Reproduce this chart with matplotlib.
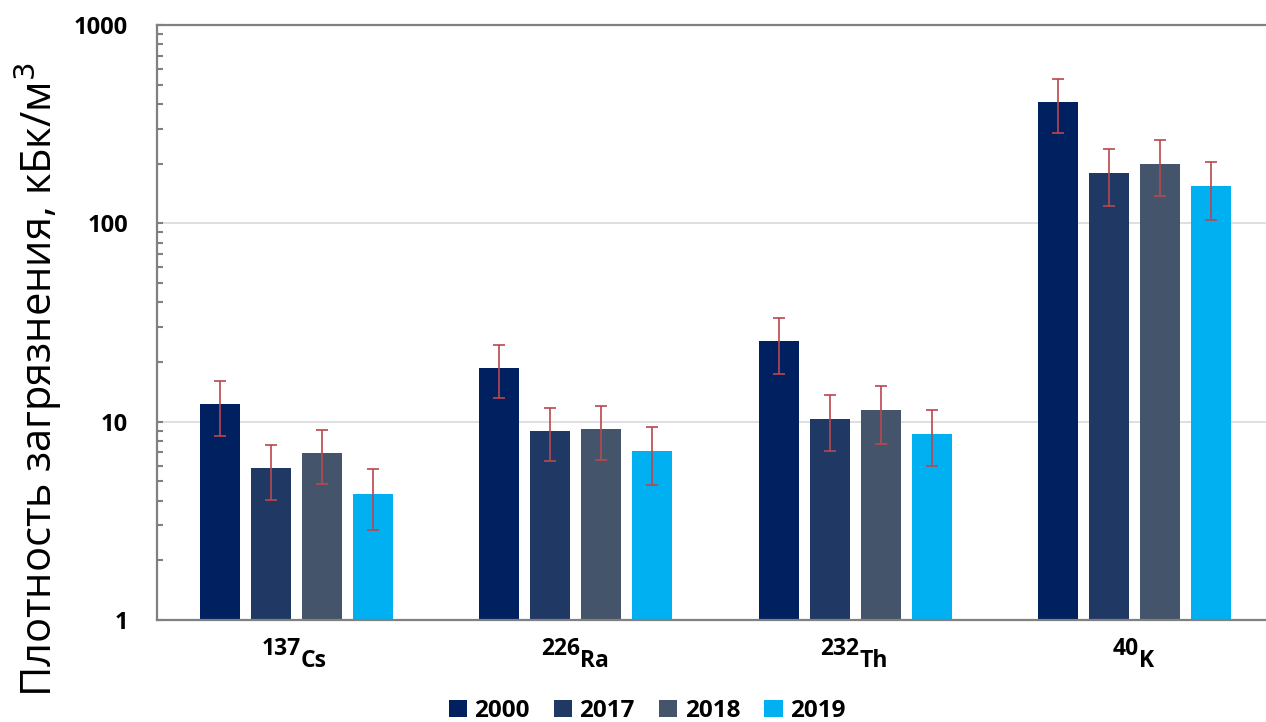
import numpy as np
import matplotlib
matplotlib.use('Agg')
import matplotlib.pyplot as plt

# ---- data ----
isotopes = ['137', '226', '232', '40']
elements = ['Cs', 'Ra', 'Th', 'K']
years = ['2000', '2017', '2018', '2019']

v2000 = [12.3, 18.7, 25.4, 410]
v2017 = [5.85, 9.0, 10.35, 180]
v2018 = [6.95, 9.2, 11.4, 200]
v2019 = [4.3, 7.1, 8.7, 154]

e2000 = [3.8, 5.6, 8.0, 124]
e2017 = [1.8, 2.7, 3.2, 57]
e2018 = [2.1, 2.8, 3.7, 62]
e2019 = [1.45, 2.3, 2.7, 50]

colors = ['#002060', '#1f3864', '#44546a', '#00b0f0']
ytick_vals = [1, 10, 100, 1000]

plt.rcParams['font.family'] = ['Open Sans', 'DejaVu Sans']

W, H = 1266, 722
fig = plt.figure(figsize=(W / 100, H / 100), dpi=100)
# axes runs slightly past the right edge, like the cropped original
ax = fig.add_axes([157 / W, 1 - 620 / H, 1117 / W, 595 / H])

x = np.arange(len(isotopes))
step = 0.1826
bw = 0.143
series = [v2000, v2017, v2018, v2019]
errs = [e2000, e2017, e2018, e2019]
for i in range(4):
    ax.bar(x + (i - 1.5) * step, series[i], width=bw, color=colors[i],
           label=years[i], zorder=2,
           yerr=errs[i], ecolor='#b9474f',
           error_kw=dict(elinewidth=1.2, capsize=4, capthick=1.2, zorder=3))

ax.set_yscale('log')
ax.set_ylim(1, 1000)
ax.set_xlim(-0.5, 3.5)
ax.set_yticks(ytick_vals)
ax.set_yticklabels([str(v) for v in ytick_vals], fontsize=17, fontweight='bold')
ax.tick_params(axis='y', which='both', direction='in', length=4, width=1.5,
               color='#7f7f7f', pad=21)
ax.tick_params(axis='x', length=0, labelbottom=False)
ax.yaxis.grid(True, which='major', color='#d9d9d9', linewidth=1.2, zorder=0)
ax.set_axisbelow(True)

for s in ['left', 'bottom', 'top']:
    ax.spines[s].set_color('#808080')
    ax.spines[s].set_linewidth(1.6)
ax.spines['right'].set_visible(False)

# x labels: mass number then element symbol set lower
for xi, num, el in zip(x, isotopes, elements):
    ax.annotate(num, xy=(xi, 0), xycoords=('data', 'axes fraction'),
                xytext=(3, -25.2), textcoords='offset points',
                ha='right', va='baseline', fontsize=16.5, fontweight='bold')
    ax.annotate(el, xy=(xi, 0), xycoords=('data', 'axes fraction'),
                xytext=(3, -33.8), textcoords='offset points',
                ha='left', va='baseline', fontsize=16.5, fontweight='bold')

fig.text(38 / W, 1 - 380 / H, 'Плотность загрязнения, кБк/м$^3$',
         rotation=90, ha='center', va='center', fontsize=30, color='black')

fig.legend(loc='center', bbox_to_anchor=(647 / W, 1 - 711 / H), ncol=4,
           frameon=False, handlelength=0.75, handleheight=0.75,
           handletextpad=0.3, columnspacing=1.0,
           prop={'size': 17.5, 'weight': 'bold'})

fig.savefig('out.png', dpi=100)
